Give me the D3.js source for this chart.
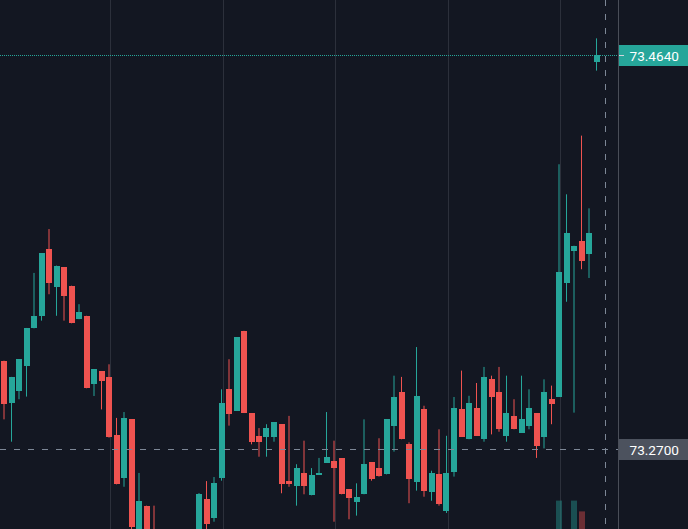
<!DOCTYPE html>
<html>
<head>
<meta charset="utf-8">
<script src="https://cdnjs.cloudflare.com/ajax/libs/d3/7.8.5/d3.min.js"></script>
<style>
  html, body { margin: 0; padding: 0; background: #131722; overflow: hidden; }
  svg { display: block; }
</style>
</head>
<body>
<div id="chart"></div>
<script>
// OHLC per bar
var opens = [73.3135, 73.2927, 73.2987, 73.3110, 73.3294, 73.3356, 73.3683, 73.3499, 73.3596, 73.3504,
    73.3339, 73.3356, 73.3019, 73.3084, 73.3055, 73.2770, 73.2557, 73.2846, 73.2262, 73.2421,
    73.2277, 73.2193, 73.2110, 73.2160, 73.2120, 73.2170, 73.2252, 73.2452, 73.2360, 73.2559,
    73.2994, 73.2889, 73.3282, 73.2876, 73.2764, 73.2759, 73.2759, 73.2822, 73.2544, 73.2519,
    73.2580, 73.2472, 73.2573, 73.2631, 73.2642, 73.2654, 73.2502, 73.2441, 73.2477, 73.2636,
    73.2606, 73.2575, 73.2815, 73.2981, 73.2723, 73.2539, 73.2895, 73.2490, 73.2575, 73.2396,
    73.2587, 73.2895, 73.2748, 73.2902, 73.2748, 73.3043, 73.2981, 73.2765, 73.2864, 73.2779,
    73.2815, 73.2877, 73.2761, 73.2945, 73.2958, 73.3519, 73.3676, 73.3726, 73.3659, 73.4607];
var highs = [73.3135, 73.3055, 73.3142, 73.3296, 73.3567, 73.3665, 73.3783, 73.3603, 73.3596, 73.3504,
    73.3413, 73.3356, 73.3092, 73.3084, 73.3117, 73.2853, 73.2882, 73.2846, 73.2582, 73.2421,
    73.2421, 73.2230, 73.2180, 73.2200, 73.2190, 73.2230, 73.2483, 73.2542, 73.2562, 73.2994,
    73.3142, 73.3251, 73.3282, 73.2876, 73.2803, 73.2822, 73.2833, 73.2822, 73.2863, 73.2625,
    73.2741, 73.2606, 73.2656, 73.2882, 73.2741, 73.2654, 73.2502, 73.2531, 73.2846, 73.2636,
    73.2753, 73.2846, 73.3061, 73.3055, 73.2733, 73.3202, 73.2913, 73.2593, 73.2797, 73.2765,
    73.2956, 73.3086, 73.2962, 73.3025, 73.3104, 73.3061, 73.3104, 73.3061, 73.2945, 73.3061,
    73.2994, 73.2877, 73.3043, 73.3012, 73.4102, 73.3954, 73.3701, 73.4243, 73.3885, 73.4722];
var lows = [73.2846, 73.2736, 73.2945, 73.2958, 73.3294, 73.3332, 73.3462, 73.3356, 73.3332, 73.3319,
    73.3339, 73.2999, 73.2961, 73.2895, 73.2756, 73.2526, 73.2514, 73.2296, 73.2242, 73.2213,
    73.2153, 73.2080, 73.2050, 73.2090, 73.2080, 73.2140, 73.2227, 73.2296, 73.2342, 73.2544,
    73.2815, 73.2889, 73.2877, 73.2723, 73.2662, 73.2662, 73.2736, 73.2482, 73.2514, 73.2421,
    73.2477, 73.2472, 73.2573, 73.2631, 73.2342, 73.2477, 73.2354, 73.2372, 73.2477, 73.2544,
    73.2564, 73.2575, 73.2687, 73.2748, 73.2433, 73.2495, 73.2465, 73.2445, 73.2421, 73.2385,
    73.2564, 73.2761, 73.2748, 73.2765, 73.2736, 73.2772, 73.2785, 73.2736, 73.2797, 73.2779,
    73.2797, 73.2656, 73.2703, 73.2822, 73.2958, 73.3425, 73.2879, 73.3585, 73.3542, 73.4563];
var closes = [73.2920, 73.3055, 73.3142, 73.3296, 73.3356, 73.3665, 73.3517, 73.3603, 73.3455, 73.3319,
    73.3375, 73.2999, 73.3092, 73.3036, 73.2759, 73.2526, 73.2851, 73.2316, 73.2445, 73.2252,
    73.2193, 73.2110, 73.2160, 73.2120, 73.2170, 73.2210, 73.2478, 73.2331, 73.2533, 73.2927,
    73.2871, 73.3251, 73.2877, 73.2736, 73.2736, 73.2803, 73.2833, 73.2528, 73.2526, 73.2606,
    73.2519, 73.2573, 73.2582, 73.2661, 73.2608, 73.2477, 73.2460, 73.2462, 73.2625, 73.2551,
    73.2569, 73.2846, 73.2956, 73.2748, 73.2551, 73.2962, 73.2495, 73.2582, 73.2428, 73.2582,
    73.2902, 73.2761, 73.2927, 73.2765, 73.3055, 73.2958, 73.2797, 73.2877, 73.2797, 73.2846,
    73.2902, 73.2716, 73.2981, 73.2920, 73.3572, 73.3762, 73.3701, 73.3627, 73.3762, 73.4640];
// volume, only the last spikes reach into view
var volumes = [30, 28, 25, 32, 22, 35, 30, 24, 26, 22,
    18, 30, 20, 18, 34, 36, 33, 40, 35, 30,
    28, 26, 22, 24, 20, 22, 30, 28, 25, 38,
    30, 35, 32, 26, 20, 22, 20, 30, 24, 22,
    24, 20, 16, 22, 26, 28, 22, 18, 30, 20,
    18, 32, 28, 30, 28, 40, 36, 24, 30, 32,
    34, 30, 28, 26, 36, 24, 28, 26, 22, 24,
    22, 28, 34, 20, 99, 45, 99, 81, 40, 20];

var gridBars = [14, 29, 44, 59, 74];
var lastPrice = 73.4640;
var crossPrice = 73.2700;
var crossBar = 80.1;

var upColor = "#26a69a", downColor = "#ef5350";

function drawChart() {
    var width = 688, height = 529,
        plotW = 619;

    var data = opens.map(function (o, i) {
        return { i: i, o: o, h: highs[i], l: lows[i], c: closes[i], v: volumes[i] };
    });

    var x = d3.scaleLinear().domain([0, 79]).range([4, 596.5]);
    var y = d3.scaleLinear().domain([73.27, 73.464]).range([449, 55]);
    var yVol = d3.scaleLinear().domain([0, 100]).range([560, 500]);
    var fmt = d3.format(".4f");
    var barW = 6;

    var svg = d3.select("#chart")
        .append("svg")
        .attr("width", width)
        .attr("height", height);

    svg.append("rect")
        .attr("width", width).attr("height", height)
        .attr("fill", "#131722");

    svg.append("clipPath").attr("id", "plotclip")
        .append("rect").attr("width", plotW).attr("height", height);

    var plot = svg.append("g").attr("clip-path", "url(#plotclip)");

    // vertical grid
    plot.append("g")
        .selectAll("line")
        .data(gridBars)
        .enter().append("line")
        .attr("x1", function (d) { return Math.round(x(d) + 1.2) + 0.5; })
        .attr("x2", function (d) { return Math.round(x(d) + 1.2) + 0.5; })
        .attr("y1", 0).attr("y2", height)
        .attr("stroke", "#2c303b")
        .attr("stroke-width", 1);

    // volume
    plot.append("g")
        .selectAll("rect")
        .data(data)
        .enter().append("rect")
        .attr("x", function (d) { return Math.round(x(d.i) - barW / 2); })
        .attr("width", barW)
        .attr("y", function (d) { return yVol(d.v); })
        .attr("height", function (d) { return yVol(0) - yVol(d.v); })
        .attr("fill", function (d) { return d.c >= d.o ? upColor : downColor; })
        .attr("opacity", 0.4);

    // wicks
    plot.append("g")
        .selectAll("line")
        .data(data)
        .enter().append("line")
        .attr("x1", function (d) { return x(d.i); })
        .attr("x2", function (d) { return x(d.i); })
        .attr("y1", function (d) { return y(d.h); })
        .attr("y2", function (d) { return y(d.l); })
        .attr("stroke", function (d) { return d.c >= d.o ? upColor : downColor; })
        .attr("stroke-width", 1);

    // bodies
    plot.append("g")
        .selectAll("rect")
        .data(data)
        .enter().append("rect")
        .attr("x", function (d) { return Math.round(x(d.i) - barW / 2); })
        .attr("width", barW)
        .attr("y", function (d) { return y(Math.max(d.o, d.c)); })
        .attr("height", function (d) { return Math.max(1, Math.abs(y(d.o) - y(d.c))); })
        .attr("fill", function (d) { return d.c >= d.o ? upColor : downColor; })
        .attr("shape-rendering", "crispEdges");

    // last price line
    plot.append("line")
        .attr("x1", 0).attr("x2", plotW)
        .attr("y1", Math.round(y(lastPrice)) + 0.5).attr("y2", Math.round(y(lastPrice)) + 0.5)
        .attr("stroke", upColor)
        .attr("stroke-dasharray", "1,1");

    // crosshair
    plot.append("line")
        .attr("x1", 0).attr("x2", plotW)
        .attr("y1", Math.round(y(crossPrice)) + 0.5).attr("y2", Math.round(y(crossPrice)) + 0.5)
        .attr("stroke", "#7d8796")
        .attr("stroke-width", 1)
        .attr("stroke-dasharray", "6,8");

    plot.append("line")
        .attr("x1", Math.round(x(crossBar)) + 0.5).attr("x2", Math.round(x(crossBar)) + 0.5)
        .attr("y1", 0).attr("y2", height)
        .attr("stroke", "#7d8796")
        .attr("stroke-width", 1)
        .attr("stroke-dasharray", "6,8");

    // price scale border
    svg.append("line")
        .attr("x1", plotW - 0.5).attr("x2", plotW - 0.5)
        .attr("y1", 0).attr("y2", height)
        .attr("stroke", "#4a4e58");

    /* price labels on the right scale */
    var labels = [
        { p: lastPrice, bg: upColor },
        { p: crossPrice, bg: "#4c525e" }
    ];

    var lab = svg.selectAll(".plabel")
        .data(labels)
        .enter().append("g")
        .attr("class", "plabel")
        .attr("transform", function (d) { return "translate(" + plotW + "," + Math.round(y(d.p)) + ")"; });

    lab.append("rect")
        .attr("x", 0).attr("y", -10)
        .attr("width", width - plotW).attr("height", 21)
        .attr("fill", function (d) { return d.bg; });

    lab.append("line")
        .attr("x1", 0).attr("x2", 5)
        .attr("y1", 0.5).attr("y2", 0.5)
        .attr("stroke", "#d1d4dc")
        .attr("opacity", function (d) { return d.p === lastPrice ? 1 : 0; });

    lab.append("text")
        .attr("x", 10.5).attr("y", 5.5)
        .attr("fill", "#ffffff")
        .style("font-family", "Roboto, 'Liberation Sans', sans-serif")
        .style("font-size", "13.6px")
        .text(function (d) { return fmt(d.p); });
}

drawChart();
</script>
</body>
</html>
